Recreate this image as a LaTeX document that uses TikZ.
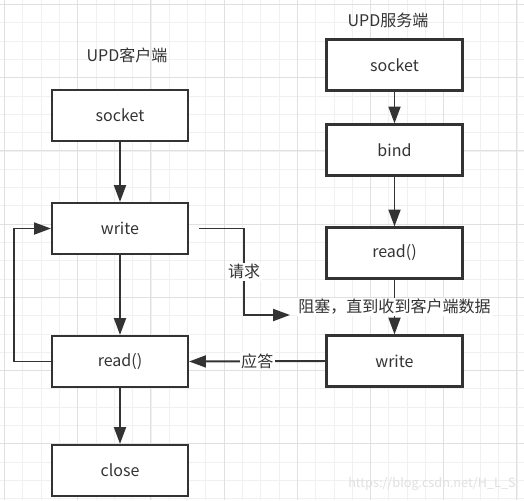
\documentclass[tikz,border=0pt]{standalone}
\usepackage{fontspec}
\setmainfont{Noto Sans CJK SC}
\usepackage{tikz}
\usetikzlibrary{arrows.meta,positioning}

\definecolor{ink}{HTML}{333333}
\definecolor{gridminor}{HTML}{F0F0F0}
\definecolor{gridmajor}{HTML}{E0E0E0}

\tikzset{
  box/.style={draw=ink, line width=1.5pt, fill=white, text=ink,
    minimum width=3.4cm, minimum height=1.275cm, inner sep=0pt},
  flow/.style={draw=ink, line width=1.4pt, -{Triangle[length=12pt,width=8.5pt]}},
  lbl/.style={fill=white, text=ink, inner sep=1pt},
  title/.style={text=ink}
}

\begin{document}
\begin{tikzpicture}[x=0.025cm, y=-0.025cm, font=\fontsize{11.4}{14}\selectfont]
\useasboundingbox (0,0) rectangle (524,500);
\fill[white] (0,0) rectangle (524,500);
%draw background grid
\foreach \i in {0,...,28}{
   \draw[gridminor, line width=0.5pt] (4.5+\i*18.3,0) -- (4.5+\i*18.3,500);
   \draw[gridminor, line width=0.5pt] (0,4.5+\i*18.3) -- (524,4.5+\i*18.3);
}
\foreach \i in {0,...,7}{
   \draw[gridmajor, line width=0.6pt] (4.5+\i*73.2,0) -- (4.5+\i*73.2,500);
   \draw[gridmajor, line width=0.6pt] (0,4.5+\i*73.2) -- (524,4.5+\i*73.2);
}
% titles
\node[title] (ctitle) at (127,55) {UPD客户端};
\node[title] (stitle) at (388,20) {UPD服务端};
% client side
\node[box] (csock) at (120,115.5) {socket};
\node[box] (cwrite) at (120,228.5) {write};
\node[box] (cread) at (120,361.5) {read()};
\node[box] (cclose) at (120,470.5) {close};
% server side
\node[box] (ssock) at (394.5,65) {socket};
\node[box] (sbind) at (394.5,150) {bind};
\node[box] (sread) at (394.5,253) {read()};
\node[box] (swrite) at (394.5,361) {write};
% client flow
\draw[flow] (csock) -- (cwrite);
\draw[flow] (cwrite) -- (cread);
\draw[flow] (cread) -- (cclose);
\draw[flow] (cread.west) -- ++(-37,0) |- (cwrite.west);
% server flow
\draw[flow] (ssock) -- (sbind);
\draw[flow] (sbind) -- (sread);
\draw[flow] (sread) -- node[lbl] (wait) {阻塞，直到收到客户端数据} (swrite);
% request and answer
\coordinate (reqend) at (290,315);
\draw[flow] (cwrite.east) ++(10,0) -- ++(45,0) |- node[lbl, pos=0.25] (req) {请求} (reqend);
\draw[flow] (swrite.west) -- node[lbl] (ans) {应答} (cread.east);
% watermark
\node[text=gridmajor, font=\fontsize{9}{11}\selectfont] (mark) at (432,484) {https://blog.csdn.net/H\_L\_S};
\end{tikzpicture}
\end{document}
